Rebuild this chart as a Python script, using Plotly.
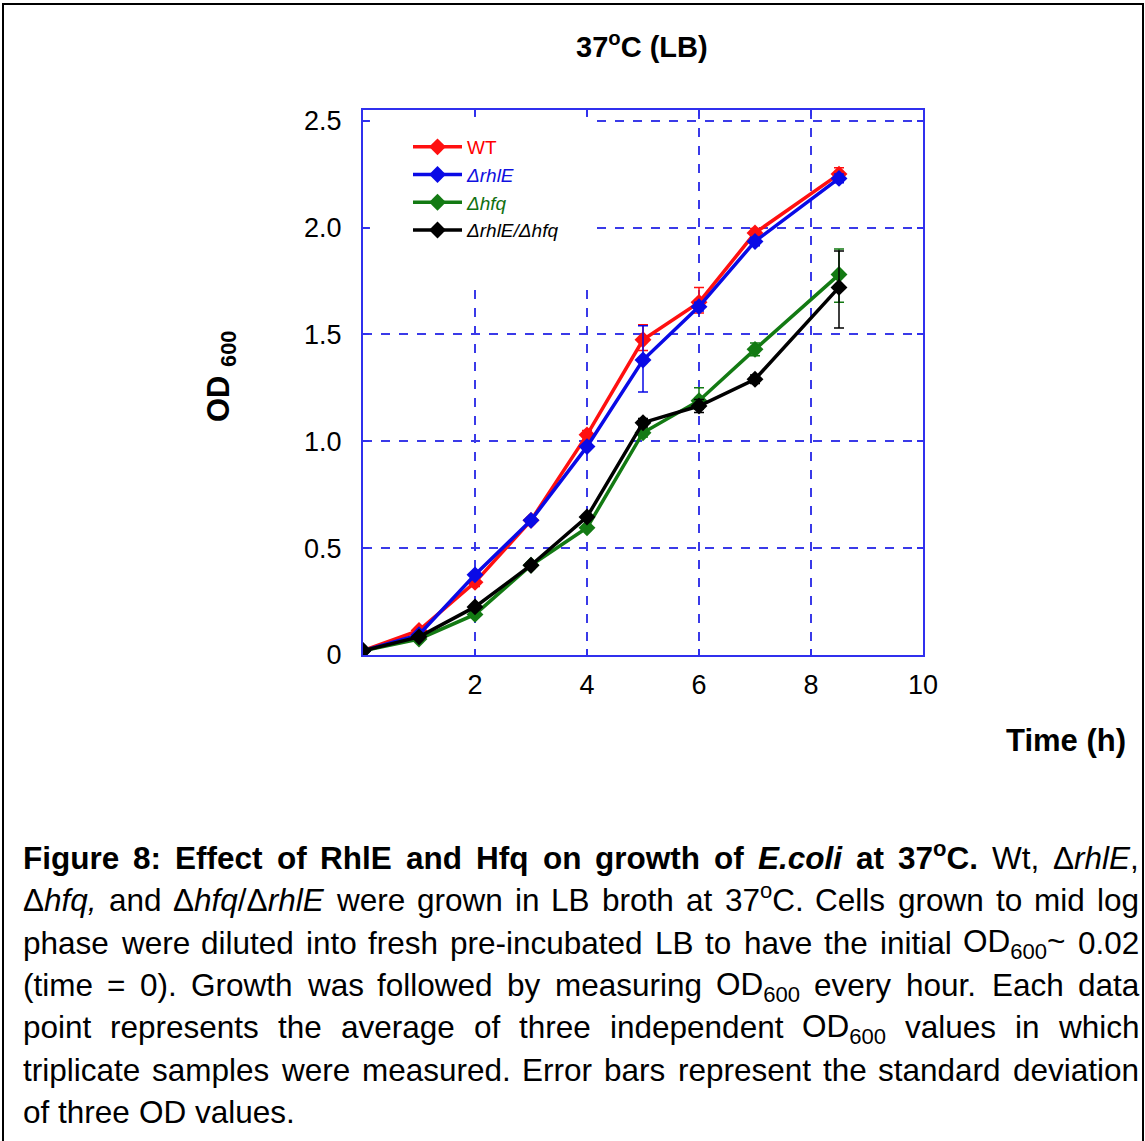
import plotly.graph_objects as go

# ---------------- data ----------------
time_h = [0, 1, 2, 3, 4, 5, 6, 7, 8.5]

wt_od = [0.02, 0.115, 0.34, 0.63, 1.03, 1.475, 1.65, 1.975, 2.25]
wt_err_plus = [0.01, 0.01, 0.02, 0.01, 0.02, 0.07, 0.07, 0.02, 0.03]
wt_err_minus = [0.01, 0.01, 0.02, 0.01, 0.02, 0.05, 0.05, 0.02, 0.03]

rhle_od = [0.02, 0.095, 0.375, 0.63, 0.975, 1.38, 1.63, 1.935, 2.23]
rhle_err_plus = [0.01, 0.01, 0.01, 0.01, 0.01, 0.16, 0.02, 0.02, 0.02]
rhle_err_minus = [0.01, 0.01, 0.01, 0.01, 0.01, 0.15, 0.02, 0.02, 0.02]

hfq_od = [0.02, 0.075, 0.19, 0.42, 0.595, 1.04, 1.19, 1.43, 1.78]
hfq_err_plus = [0.01, 0.01, 0.01, 0.01, 0.01, 0.02, 0.06, 0.03, 0.12]
hfq_err_minus = [0.01, 0.01, 0.01, 0.01, 0.01, 0.02, 0.04, 0.03, 0.13]

double_od = [0.02, 0.085, 0.225, 0.42, 0.646, 1.087, 1.165, 1.29, 1.72]
double_err_plus = [0.01, 0.01, 0.01, 0.01, 0.01, 0.02, 0.03, 0.02, 0.17]
double_err_minus = [0.01, 0.01, 0.01, 0.01, 0.01, 0.02, 0.03, 0.02, 0.19]

legend_labels = [
    "<span style='color:#ff0000'>WT</span>",
    "<span style='color:#1010e0'><i>ΔrhlE</i></span>",
    "<span style='color:#107010'><i>Δhfq</i></span>",
    "<span style='color:#000000'><i>ΔrhlE/Δhfq</i></span>",
]
colors = ["#ff1010", "#0a0ae6", "#137a13", "#000000"]

x_tickvals = [2, 4, 6, 8, 10]
y_tickvals = [0, 0.5, 1.0, 1.5, 2.0, 2.5]
y_ticktext = ["0", "0.5", "1.0", "1.5", "2.0", "2.5"]

chart_title = "<b>37<sup>o</sup>C (LB)</b>"
y_title = "<b>OD <sub>600</sub></b>"
x_title = "<b>Time (h)</b>"

caption_lines = [
    "<b>Figure 8: Effect of RhlE and Hfq on growth of <i>E.coli</i> at 37<sup>o</sup>C.</b> Wt, Δ<i>rhlE</i>,",
    "Δ<i>hfq,</i> and Δ<i>hfq</i>/Δ<i>rhlE</i> were grown in LB broth at 37<sup>o</sup>C. Cells grown to mid log",
    "phase were diluted into fresh pre-incubated LB to have the initial OD<sub>600</sub>~ 0.02",
    "(time = 0). Growth was followed by measuring OD<sub>600</sub> every hour. Each data",
    "point represents the average of three independent OD<sub>600</sub> values in which",
    "triplicate samples were measured. Error bars represent the standard deviation",
    "of three OD values.",
]
caption_justified = [True, True, True, True, True, True, False]

# ---------------- layout geometry (pixels) ----------------
W, H = 1145, 1141
PL, PR, PT, PB = 363, 923, 110, 655  # plot area


def fx(px):
    return (px - PL) / (PR - PL)


def fy(py):
    return (PB - py) / (PB - PT)


# ---------------- Arial / Liberation Sans advance widths (1/1000 em) ----------------
UP = "ABCDEFGHIJKLMNOPQRSTUVWXYZ"
LO = "abcdefghijklmnopqrstuvwxyz"
REG_W = dict(zip(UP, [667, 667, 722, 722, 667, 611, 778, 722, 278, 500, 667, 556, 833,
                      722, 778, 667, 778, 722, 667, 611, 722, 667, 944, 667, 667, 611]))
REG_W.update(zip(LO, [556, 556, 500, 556, 556, 278, 556, 556, 222, 222, 500, 222, 833,
                      556, 556, 556, 556, 333, 500, 278, 556, 500, 722, 500, 500, 500]))
REG_W.update({c: 556 for c in "0123456789"})
REG_W.update({" ": 278, "(": 333, ")": 333, ",": 278, "-": 333, ".": 278, "/": 278,
              ":": 278, "=": 584, "~": 584, "Δ": 668})
BOLD_W = dict(REG_W)
BOLD_W.update(zip(UP, [722, 722, 722, 722, 667, 611, 778, 722, 278, 556, 722, 611, 833,
                       722, 778, 667, 778, 722, 667, 611, 722, 667, 944, 667, 667, 611]))
BOLD_W.update(zip(LO, [556, 611, 556, 611, 556, 333, 611, 611, 278, 278, 556, 278, 889,
                       611, 611, 611, 611, 389, 556, 333, 611, 556, 778, 556, 556, 500]))
BOLD_W.update({":": 333})


def parse_words(markup):
    words, cur = [], []
    state = {"b": False, "i": False, "sub": False, "sup": False}
    i = 0
    while i < len(markup):
        ch = markup[i]
        if ch == "<":
            j = markup.index(">", i)
            tag = markup[i + 1:j]
            if tag.startswith("/"):
                state[tag[1:]] = False
            else:
                state[tag] = True
            i = j + 1
            continue
        if ch == " ":
            if cur:
                words.append(cur)
                cur = []
        else:
            cur.append((ch, (state["b"], state["i"], state["sub"], state["sup"])))
        i += 1
    if cur:
        words.append(cur)
    return words


def word_markup(word):
    out, groups = "", []
    for ch, st in word:
        if groups and groups[-1][1] == st:
            groups[-1][0] += ch
        else:
            groups.append([ch, st])
    for txt, (b, it, sb, sp) in groups:
        s = txt
        if sb:
            s = "<sub>" + s + "</sub>"
        if sp:
            s = "<sup>" + s + "</sup>"
        if it:
            s = "<i>" + s + "</i>"
        if b:
            s = "<b>" + s + "</b>"
        out += s
    return out


def word_width(word, fs):
    w = 0.0
    for ch, (b, it, sb, sp) in word:
        table = BOLD_W if b else REG_W
        cw = table.get(ch, 556)
        if sb or sp:
            cw *= 0.7
        w += cw
    return w / 1000.0 * fs


fig = go.Figure()

all_od = [wt_od, rhle_od, hfq_od, double_od]
all_ep = [wt_err_plus, rhle_err_plus, hfq_err_plus, double_err_plus]
all_em = [wt_err_minus, rhle_err_minus, hfq_err_minus, double_err_minus]

for lab, col, od, ep, em in zip(legend_labels, colors, all_od, all_ep, all_em):
    fig.add_trace(go.Scatter(
        x=time_h, y=od, name=lab, mode="lines+markers",
        line=dict(color=col, width=3.5),
        marker=dict(symbol="diamond", size=13, color=col),
        error_y=dict(type="data", symmetric=False, array=ep, arrayminus=em,
                     color=col, thickness=1.5, width=5),
    ))

axis_blue = "#3030ee"
grid_blue = "#3a3ae8"
tick_font = dict(family="Liberation Sans, Arial", size=27, color="black")

fig.update_xaxes(
    range=[0, 10], tickvals=x_tickvals, ticktext=[str(v) for v in x_tickvals],
    showline=True, linecolor=axis_blue, linewidth=2, mirror="ticks",
    ticks="inside", ticklen=6, tickcolor=axis_blue, tickwidth=2,
    showgrid=True, gridcolor=grid_blue, gridwidth=1.5, griddash="dash",
    zeroline=False, tickfont=tick_font, ticklabelstandoff=5,
)
fig.update_yaxes(
    range=[0, 2.55], tickvals=y_tickvals, ticktext=y_ticktext,
    showline=True, linecolor=axis_blue, linewidth=2, mirror="ticks",
    ticks="inside", ticklen=6, tickcolor=axis_blue, tickwidth=2,
    showgrid=True, gridcolor=grid_blue, gridwidth=1.5, griddash="dash",
    zeroline=False, tickfont=tick_font, ticklabelstandoff=14,
)

shapes = [
    # white box behind the legend (hides gridlines, keeps frame ticks)
    dict(type="rect", xref="paper", yref="paper", x0=fx(PL + 7), x1=fx(596), y0=fy(290), y1=fy(PT + 7),
         fillcolor="white", line=dict(width=0), layer="above"),
    # outer figure border
    dict(type="rect", xref="paper", yref="paper", x0=fx(3), x1=fx(1143), y0=fy(1150), y1=fy(4),
         fillcolor="rgba(0,0,0,0)", line=dict(color="black", width=2), layer="above"),
]

annotations = [
    dict(text=chart_title, x=fx(642), y=fy(45), xref="paper", yref="paper",
         showarrow=False, font=dict(family="Liberation Sans, Arial", size=29, color="black"),
         xanchor="center", yanchor="middle"),
    dict(text=y_title, x=fx(221), y=fy(377), xref="paper", yref="paper",
         showarrow=False, textangle=-90,
         font=dict(family="Liberation Sans, Arial", size=31, color="black"),
         xanchor="center", yanchor="middle"),
    dict(text=x_title, x=fx(1128), y=fy(740), xref="paper", yref="paper",
         showarrow=False, font=dict(family="Liberation Sans, Arial", size=31, color="black"),
         xanchor="right", yanchor="middle"),
]

# caption: justified text, one annotation per word
CAP_FS = 31.5
CAP_LEFT, CAP_RIGHT = 22, 1138
line_y0 = 858
line_step = 42.3
for li, (line, just) in enumerate(zip(caption_lines, caption_justified)):
    words = parse_words(line)
    widths = [word_width(w, CAP_FS) for w in words]
    if just and len(words) > 1:
        gap = (CAP_RIGHT - CAP_LEFT - sum(widths)) / (len(words) - 1)
    else:
        gap = 0.278 * CAP_FS
    xcur = CAP_LEFT
    ypx = line_y0 + li * line_step
    for w, wd in zip(words, widths):
        has_sup = any(st[3] for _, st in w)
        has_sub = any(st[2] for _, st in w)
        shift = 0
        if has_sup:
            shift = 2.3
        elif has_sub:
            shift = -1.2
        annotations.append(dict(
            text=word_markup(w), x=fx(xcur - 1), y=fy(ypx), xref="paper", yref="paper",
            showarrow=False, xanchor="left", yanchor="middle", yshift=shift,
            font=dict(family="Liberation Sans, Arial", size=CAP_FS, color="black"),
        ))
        xcur += wd + gap

fig.update_layout(
    width=W, height=H,
    margin=dict(l=PL, r=W - PR, t=PT, b=H - PB, autoexpand=False),
    paper_bgcolor="white", plot_bgcolor="white",
    showlegend=True,
    legend=dict(x=fx(408), y=fy(128), xanchor="left", yanchor="top",
                bgcolor="rgba(0,0,0,0)", borderwidth=0,
                font=dict(family="Liberation Sans, Arial", size=19, color="black"),
                itemwidth=49, tracegroupgap=0),
    shapes=shapes, annotations=annotations,
)

fig.write_html("out.html")
